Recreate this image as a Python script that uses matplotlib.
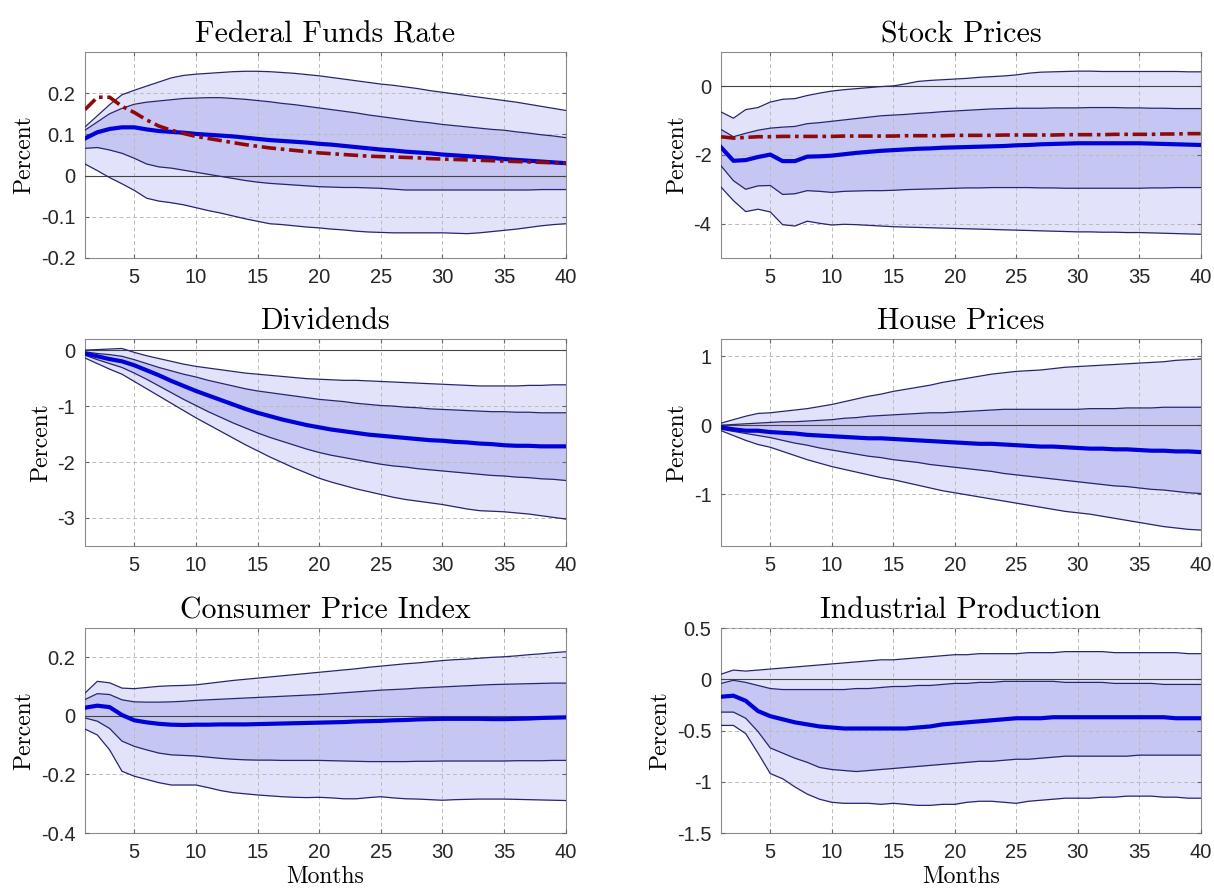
import numpy as np
import matplotlib
matplotlib.use("Agg")
import matplotlib.pyplot as plt
from matplotlib.ticker import FormatStrFormatter

plt.rcParams['axes.unicode_minus'] = False

months = list(range(1, 41))

# Federal Funds Rate
ffr_med = [0.090, 0.105, 0.113, 0.117, 0.117, 0.112, 0.108, 0.106, 0.104, 0.101,
           0.099, 0.097, 0.095, 0.092, 0.089, 0.086, 0.084, 0.082, 0.080, 0.077,
           0.075, 0.072, 0.069, 0.066, 0.063, 0.061, 0.058, 0.056, 0.054, 0.051,
           0.049, 0.047, 0.045, 0.043, 0.040, 0.038, 0.036, 0.034, 0.032, 0.030]
ffr_alt = [0.160, 0.190, 0.190, 0.168, 0.153, 0.135, 0.120, 0.110, 0.102, 0.095,
           0.090, 0.085, 0.080, 0.075, 0.071, 0.067, 0.064, 0.061, 0.058, 0.055,
           0.053, 0.051, 0.049, 0.047, 0.046, 0.045, 0.044, 0.043, 0.041, 0.040,
           0.039, 0.038, 0.037, 0.036, 0.035, 0.034, 0.033, 0.032, 0.031, 0.030]
ffr_hi90 = [0.118, 0.145, 0.172, 0.196, 0.207, 0.217, 0.227, 0.237, 0.243, 0.246,
            0.248, 0.250, 0.252, 0.253, 0.253, 0.252, 0.250, 0.248, 0.245, 0.242,
            0.238, 0.234, 0.230, 0.226, 0.222, 0.219, 0.215, 0.211, 0.206, 0.202,
            0.198, 0.194, 0.190, 0.186, 0.182, 0.178, 0.173, 0.168, 0.163, 0.158]
ffr_hi68 = [0.110, 0.130, 0.150, 0.163, 0.173, 0.178, 0.181, 0.184, 0.187, 0.188,
            0.189, 0.189, 0.187, 0.185, 0.182, 0.179, 0.175, 0.172, 0.168, 0.164,
            0.160, 0.156, 0.152, 0.147, 0.143, 0.139, 0.135, 0.131, 0.128, 0.124,
            0.121, 0.118, 0.115, 0.112, 0.110, 0.106, 0.103, 0.099, 0.096, 0.092]
ffr_lo68 = [0.066, 0.068, 0.062, 0.054, 0.042, 0.028, 0.021, 0.018, 0.013, 0.008,
            0.003, -0.002, -0.007, -0.012, -0.016, -0.019, -0.021, -0.023, -0.025, -0.027,
            -0.028, -0.029, -0.029, -0.030, -0.031, -0.033, -0.035, -0.035, -0.035, -0.035,
            -0.035, -0.035, -0.035, -0.035, -0.035, -0.035, -0.035, -0.034, -0.034, -0.034]
ffr_lo90 = [0.028, 0.012, -0.005, -0.020, -0.036, -0.055, -0.062, -0.066, -0.071, -0.078,
            -0.085, -0.091, -0.098, -0.105, -0.111, -0.117, -0.119, -0.122, -0.125, -0.127,
            -0.130, -0.132, -0.135, -0.137, -0.138, -0.139, -0.139, -0.139, -0.139, -0.139,
            -0.140, -0.141, -0.139, -0.136, -0.133, -0.130, -0.126, -0.122, -0.119, -0.117]

# Stock Prices
stk_med = [-1.78, -2.17, -2.15, -2.06, -1.99, -2.18, -2.18, -2.05, -2.04, -2.02,
           -1.98, -1.94, -1.91, -1.88, -1.86, -1.84, -1.82, -1.81, -1.79, -1.78,
           -1.77, -1.76, -1.75, -1.74, -1.72, -1.71, -1.69, -1.68, -1.67, -1.66,
           -1.66, -1.66, -1.66, -1.66, -1.66, -1.67, -1.68, -1.69, -1.70, -1.71]
stk_alt = [-1.47, -1.51, -1.49, -1.47, -1.47, -1.46, -1.46, -1.46, -1.46, -1.46,
           -1.45, -1.45, -1.45, -1.45, -1.45, -1.44, -1.44, -1.44, -1.44, -1.43,
           -1.43, -1.43, -1.43, -1.42, -1.42, -1.42, -1.42, -1.42, -1.41, -1.41,
           -1.41, -1.41, -1.40, -1.40, -1.40, -1.40, -1.39, -1.39, -1.38, -1.38]
stk_hi90 = [-0.75, -0.93, -0.68, -0.62, -0.46, -0.38, -0.36, -0.27, -0.20, -0.14,
            -0.10, -0.07, -0.04, -0.01, 0.01, 0.07, 0.14, 0.17, 0.19, 0.21,
            0.23, 0.26, 0.28, 0.30, 0.33, 0.38, 0.41, 0.42, 0.43, 0.44,
            0.44, 0.43, 0.43, 0.43, 0.43, 0.43, 0.43, 0.43, 0.42, 0.42]
stk_hi68 = [-1.26, -1.47, -1.37, -1.28, -1.22, -1.19, -1.17, -1.09, -1.06, -1.02,
            -0.98, -0.94, -0.90, -0.86, -0.84, -0.82, -0.79, -0.77, -0.74, -0.72,
            -0.70, -0.68, -0.66, -0.65, -0.64, -0.64, -0.64, -0.63, -0.63, -0.63,
            -0.62, -0.62, -0.62, -0.63, -0.63, -0.64, -0.64, -0.65, -0.65, -0.65]
stk_lo68 = [-2.32, -2.75, -3.00, -2.90, -2.89, -3.15, -3.13, -3.04, -3.06, -3.09,
            -3.06, -3.05, -3.04, -3.04, -3.03, -3.01, -3.00, -2.99, -2.98, -2.97,
            -2.96, -2.96, -2.95, -2.95, -2.95, -2.95, -2.96, -2.96, -2.97, -2.97,
            -2.97, -2.97, -2.97, -2.97, -2.97, -2.96, -2.96, -2.95, -2.95, -2.95]
stk_lo90 = [-2.94, -3.33, -3.65, -3.58, -3.66, -4.03, -4.07, -3.93, -3.99, -4.04,
            -4.02, -4.03, -4.05, -4.07, -4.09, -4.10, -4.11, -4.12, -4.13, -4.14,
            -4.15, -4.16, -4.17, -4.18, -4.19, -4.20, -4.21, -4.22, -4.23, -4.24,
            -4.24, -4.25, -4.25, -4.26, -4.26, -4.27, -4.28, -4.29, -4.30, -4.31]

# Dividends
div_med = [-0.06, -0.11, -0.16, -0.20, -0.27, -0.36, -0.45, -0.55, -0.64, -0.73,
           -0.81, -0.89, -0.97, -1.05, -1.12, -1.18, -1.24, -1.29, -1.34, -1.38,
           -1.42, -1.45, -1.48, -1.51, -1.53, -1.55, -1.57, -1.59, -1.61, -1.62,
           -1.64, -1.65, -1.67, -1.68, -1.70, -1.71, -1.71, -1.72, -1.72, -1.72]
div_hi90 = [0.00, 0.01, 0.02, 0.03, -0.04, -0.10, -0.15, -0.20, -0.25, -0.29,
            -0.32, -0.35, -0.38, -0.41, -0.43, -0.45, -0.47, -0.49, -0.51, -0.52,
            -0.53, -0.54, -0.54, -0.55, -0.56, -0.57, -0.58, -0.59, -0.60, -0.61,
            -0.62, -0.63, -0.64, -0.64, -0.64, -0.64, -0.63, -0.63, -0.62, -0.62]
div_hi68 = [-0.03, -0.06, -0.08, -0.11, -0.17, -0.24, -0.31, -0.37, -0.43, -0.48,
            -0.54, -0.59, -0.64, -0.69, -0.73, -0.76, -0.79, -0.82, -0.85, -0.88,
            -0.90, -0.92, -0.95, -0.97, -0.99, -1.00, -1.02, -1.03, -1.05, -1.06,
            -1.07, -1.08, -1.09, -1.10, -1.10, -1.11, -1.11, -1.12, -1.12, -1.12]
div_lo68 = [-0.09, -0.17, -0.24, -0.31, -0.41, -0.52, -0.64, -0.76, -0.88, -0.99,
            -1.10, -1.20, -1.30, -1.39, -1.48, -1.56, -1.63, -1.70, -1.77, -1.83,
            -1.88, -1.92, -1.96, -2.00, -2.04, -2.07, -2.09, -2.12, -2.14, -2.16,
            -2.18, -2.20, -2.22, -2.24, -2.25, -2.27, -2.28, -2.30, -2.31, -2.33]
div_lo90 = [-0.14, -0.24, -0.34, -0.43, -0.56, -0.69, -0.82, -0.95, -1.08, -1.21,
            -1.33, -1.45, -1.57, -1.69, -1.80, -1.91, -2.01, -2.11, -2.20, -2.29,
            -2.36, -2.42, -2.48, -2.53, -2.58, -2.63, -2.67, -2.70, -2.73, -2.76,
            -2.80, -2.84, -2.87, -2.88, -2.89, -2.91, -2.93, -2.96, -2.99, -3.02]

# House Prices
hp_med = [-0.03, -0.06, -0.08, -0.08, -0.10, -0.11, -0.12, -0.14, -0.15, -0.16,
          -0.17, -0.18, -0.19, -0.19, -0.20, -0.21, -0.22, -0.23, -0.24, -0.25,
          -0.26, -0.27, -0.27, -0.28, -0.29, -0.30, -0.31, -0.31, -0.32, -0.33,
          -0.34, -0.34, -0.35, -0.35, -0.36, -0.37, -0.37, -0.38, -0.38, -0.39]
hp_hi90 = [0.03, 0.08, 0.13, 0.17, 0.18, 0.20, 0.22, 0.24, 0.27, 0.30,
           0.34, 0.38, 0.42, 0.45, 0.49, 0.52, 0.55, 0.58, 0.62, 0.65,
           0.68, 0.71, 0.74, 0.76, 0.78, 0.79, 0.80, 0.82, 0.84, 0.85,
           0.86, 0.87, 0.88, 0.89, 0.90, 0.91, 0.92, 0.94, 0.95, 0.96]
hp_hi68 = [0.00, 0.01, 0.02, 0.03, 0.04, 0.05, 0.05, 0.06, 0.07, 0.08,
           0.10, 0.11, 0.13, 0.14, 0.15, 0.16, 0.17, 0.18, 0.18, 0.19,
           0.20, 0.21, 0.22, 0.23, 0.23, 0.23, 0.23, 0.23, 0.23, 0.23,
           0.24, 0.24, 0.24, 0.25, 0.25, 0.25, 0.26, 0.26, 0.26, 0.26]
hp_lo68 = [-0.06, -0.09, -0.12, -0.15, -0.18, -0.22, -0.26, -0.29, -0.33, -0.36,
           -0.39, -0.42, -0.45, -0.47, -0.50, -0.52, -0.54, -0.57, -0.59, -0.61,
           -0.63, -0.65, -0.67, -0.70, -0.72, -0.74, -0.76, -0.78, -0.80, -0.82,
           -0.84, -0.86, -0.88, -0.89, -0.91, -0.93, -0.94, -0.96, -0.98, -0.99]
hp_lo90 = [-0.08, -0.15, -0.22, -0.28, -0.32, -0.38, -0.44, -0.50, -0.55, -0.60,
           -0.64, -0.68, -0.72, -0.76, -0.79, -0.83, -0.87, -0.91, -0.95, -0.98,
           -1.01, -1.04, -1.07, -1.10, -1.13, -1.16, -1.19, -1.22, -1.25, -1.27,
           -1.29, -1.32, -1.35, -1.38, -1.41, -1.44, -1.47, -1.49, -1.51, -1.52]

# Consumer Price Index
cpi_med = [0.028, 0.035, 0.030, 0.003, -0.015, -0.022, -0.027, -0.030, -0.031, -0.030,
           -0.030, -0.029, -0.029, -0.029, -0.028, -0.027, -0.026, -0.025, -0.024, -0.023,
           -0.022, -0.021, -0.019, -0.018, -0.017, -0.015, -0.014, -0.012, -0.011, -0.010,
           -0.010, -0.010, -0.010, -0.011, -0.011, -0.010, -0.009, -0.007, -0.006, -0.005]
cpi_hi90 = [0.078, 0.118, 0.113, 0.095, 0.093, 0.097, 0.101, 0.103, 0.104, 0.106,
            0.111, 0.116, 0.121, 0.125, 0.129, 0.133, 0.137, 0.141, 0.145, 0.149,
            0.153, 0.157, 0.161, 0.166, 0.170, 0.174, 0.178, 0.181, 0.185, 0.189,
            0.192, 0.194, 0.197, 0.200, 0.202, 0.205, 0.209, 0.212, 0.216, 0.219]
cpi_hi68 = [0.056, 0.076, 0.073, 0.055, 0.048, 0.047, 0.047, 0.048, 0.050, 0.053,
            0.055, 0.057, 0.059, 0.061, 0.063, 0.065, 0.067, 0.069, 0.071, 0.073,
            0.076, 0.079, 0.082, 0.085, 0.088, 0.090, 0.092, 0.095, 0.097, 0.099,
            0.101, 0.103, 0.105, 0.107, 0.108, 0.109, 0.110, 0.111, 0.112, 0.112]
cpi_lo68 = [-0.007, -0.018, -0.043, -0.086, -0.104, -0.116, -0.127, -0.133, -0.135, -0.137,
            -0.141, -0.145, -0.148, -0.150, -0.151, -0.151, -0.152, -0.152, -0.152, -0.152,
            -0.153, -0.154, -0.155, -0.156, -0.156, -0.156, -0.156, -0.155, -0.155, -0.154,
            -0.154, -0.154, -0.154, -0.154, -0.154, -0.153, -0.153, -0.153, -0.152, -0.152]
cpi_lo90 = [-0.045, -0.065, -0.116, -0.189, -0.206, -0.217, -0.228, -0.236, -0.236, -0.236,
            -0.245, -0.255, -0.262, -0.266, -0.270, -0.273, -0.276, -0.278, -0.279, -0.278,
            -0.280, -0.283, -0.283, -0.279, -0.276, -0.280, -0.283, -0.284, -0.286, -0.288,
            -0.286, -0.285, -0.284, -0.284, -0.284, -0.285, -0.286, -0.287, -0.288, -0.289]

# Industrial Production
ip_med = [-0.17, -0.16, -0.21, -0.31, -0.36, -0.39, -0.42, -0.44, -0.46, -0.47,
          -0.48, -0.48, -0.48, -0.48, -0.48, -0.48, -0.47, -0.46, -0.44, -0.43,
          -0.42, -0.41, -0.40, -0.39, -0.38, -0.38, -0.38, -0.37, -0.37, -0.37,
          -0.37, -0.37, -0.37, -0.37, -0.37, -0.37, -0.37, -0.38, -0.38, -0.38]
ip_hi90 = [0.05, 0.09, 0.08, 0.09, 0.10, 0.11, 0.12, 0.13, 0.14, 0.15,
           0.16, 0.17, 0.18, 0.19, 0.19, 0.20, 0.21, 0.22, 0.23, 0.24,
           0.24, 0.25, 0.25, 0.25, 0.25, 0.26, 0.26, 0.26, 0.27, 0.27,
           0.27, 0.27, 0.26, 0.26, 0.26, 0.26, 0.26, 0.26, 0.25, 0.25]
ip_hi68 = [-0.04, -0.01, -0.03, -0.06, -0.09, -0.10, -0.10, -0.10, -0.10, -0.10,
           -0.10, -0.09, -0.09, -0.08, -0.07, -0.07, -0.06, -0.06, -0.05, -0.04,
           -0.04, -0.03, -0.03, -0.02, -0.02, -0.02, -0.02, -0.02, -0.03, -0.03,
           -0.03, -0.03, -0.04, -0.04, -0.04, -0.04, -0.05, -0.05, -0.05, -0.05]
ip_lo68 = [-0.32, -0.32, -0.38, -0.51, -0.67, -0.72, -0.77, -0.81, -0.86, -0.88,
           -0.89, -0.90, -0.89, -0.88, -0.87, -0.86, -0.85, -0.84, -0.83, -0.82,
           -0.81, -0.80, -0.80, -0.79, -0.78, -0.78, -0.77, -0.76, -0.75, -0.75,
           -0.75, -0.75, -0.75, -0.75, -0.74, -0.74, -0.74, -0.74, -0.74, -0.74]
ip_lo90 = [-0.45, -0.45, -0.53, -0.72, -0.92, -0.97, -1.05, -1.12, -1.17, -1.20,
           -1.21, -1.21, -1.21, -1.22, -1.21, -1.22, -1.23, -1.23, -1.22, -1.22,
           -1.20, -1.19, -1.19, -1.20, -1.21, -1.19, -1.18, -1.17, -1.16, -1.16,
           -1.16, -1.15, -1.15, -1.14, -1.14, -1.14, -1.15, -1.15, -1.16, -1.16]

titles = ["Federal Funds Rate", "Stock Prices", "Dividends", "House Prices",
          "Consumer Price Index", "Industrial Production"]
yticks = [[-0.2, -0.1, 0, 0.1, 0.2], [-4, -2, 0], [-3, -2, -1, 0], [-1, 0, 1],
          [-0.4, -0.2, 0, 0.2], [-1.5, -1, -0.5, 0, 0.5]]
ylims = [(-0.2, 0.3), (-5, 1), (-3.5, 0.2), (-1.75, 1.25), (-0.4, 0.3), (-1.5, 0.5)]

panels = [
    (ffr_med, ffr_lo68, ffr_hi68, ffr_lo90, ffr_hi90, ffr_alt),
    (stk_med, stk_lo68, stk_hi68, stk_lo90, stk_hi90, stk_alt),
    (div_med, div_lo68, div_hi68, div_lo90, div_hi90, None),
    (hp_med, hp_lo68, hp_hi68, hp_lo90, hp_hi90, None),
    (cpi_med, cpi_lo68, cpi_hi68, cpi_lo90, cpi_hi90, None),
    (ip_med, ip_lo68, ip_hi68, ip_lo90, ip_hi90, None),
]

# axes boxes in figure fractions [left, bottom, width, height]
col_x = [0.070, 0.594]
col_w = [0.396, 0.395]
row_y = [0.7108, 0.388, 0.0661]
row_h = [0.231, 0.232, 0.2298]

c_out = '#E2E2FA'
c_in = '#C6C6F2'
c_edge = '#26266E'
c_med = '#0000D8'
c_alt = '#8E0A0A'
serif = 'cmr10'
sans = 'Liberation Sans'

fig = plt.figure(figsize=(12.14, 8.92), dpi=100)

for k, (med, lo68, hi68, lo90, hi90, alt) in enumerate(panels):
    r, c = k // 2, k % 2
    ax = fig.add_axes([col_x[c], row_y[r], col_w[c], row_h[r]])
    ax.fill_between(months, lo90, hi90, color=c_out, lw=0, zorder=1)
    ax.fill_between(months, lo68, hi68, color=c_in, lw=0, zorder=1.1)
    for s in (lo90, hi90, lo68, hi68):
        ax.plot(months, s, color=c_edge, lw=0.9, zorder=3)
    ax.axhline(0, color='#444444', lw=0.8, zorder=2.8)
    ax.plot(months, med, color=c_med, lw=3, zorder=4)
    if alt is not None:
        ax.plot(months, alt, color=c_alt, lw=2.6, ls=(0, (4, 1.3, 1, 1.3)), zorder=5)

    ax.set_xlim(1, 40)
    ax.set_ylim(*ylims[k])
    ax.set_xticks([5, 10, 15, 20, 25, 30, 35, 40])
    ax.set_yticks(yticks[k])
    ax.yaxis.set_major_formatter(FormatStrFormatter('%g'))
    ax.set_axisbelow(False)
    ax.grid(True, color='#BBBBBB', lw=0.7, ls=(0, (4, 3)))
    ax.tick_params(direction='in', length=3, color='#666666', labelsize=14.5,
                   labelcolor='#262626', top=True, right=True, pad=7)
    for lab in ax.get_xticklabels() + ax.get_yticklabels():
        lab.set_fontfamily(sans)
    for sp in ax.spines.values():
        sp.set_color('#8C8C8C')
        sp.set_linewidth(0.8)

    ax.set_title(titles[k], fontfamily=serif, fontsize=21.5, pad=7)
    ax.set_ylabel("Percent", fontfamily=serif, fontsize=17, labelpad=4)
    if r == 2:
        ax.set_xlabel("Months", fontfamily=serif, fontsize=17, labelpad=3)

fig.savefig("out.png", dpi=100)
